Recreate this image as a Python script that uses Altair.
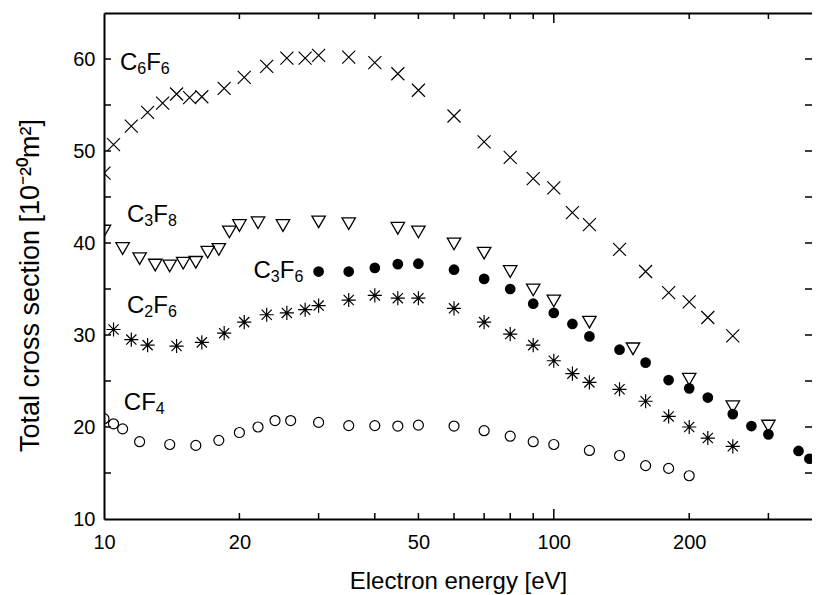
import math
import altair as alt
import pandas as pd

# ---------------- data ----------------
c6f6_energy = [10, 10.5, 11.5, 12.5, 13.5, 14.5, 15.5, 16.5, 18.5, 20.5, 23, 25.5, 28, 30,
               35, 40, 45, 50, 60, 70, 80, 90, 100, 110, 120, 140, 160, 180, 200, 220, 250]
c6f6_value = [47.6, 50.7, 52.7, 54.2, 55.2, 56.2, 55.8, 55.9, 56.8, 58.0, 59.2, 60.1, 60.1, 60.4,
              60.2, 59.6, 58.4, 56.6, 53.8, 51.0, 49.3, 47.0, 46.0, 43.3, 42.0, 39.3, 36.9, 34.6,
              33.6, 31.9, 29.9]

c3f8_energy = [10, 11, 12, 13, 14, 15, 16, 17, 18, 19, 20, 22, 25, 30, 35, 45, 50, 60, 70, 80,
               90, 100, 120, 150, 200, 250, 300]
c3f8_value = [41.3, 39.4, 38.3, 37.6, 37.5, 37.8, 37.9, 39.0, 39.3, 41.2, 41.9, 42.2, 41.9, 42.3,
              42.1, 41.6, 41.2, 39.9, 38.9, 36.9, 34.9, 33.7, 31.4, 28.5, 25.2, 22.2, 20.1]

c3f6_energy = [30, 35, 40, 45, 50, 60, 70, 80, 90, 100, 110, 120, 140, 160, 180, 200, 220, 250,
               275, 300, 350, 370]
c3f6_value = [36.9, 36.9, 37.3, 37.7, 37.75, 37.1, 36.1, 35.0, 33.4, 32.4, 31.2, 29.85, 28.4,
              27.0, 25.1, 24.2, 23.2, 21.4, 20.1, 19.2, 17.4, 16.55]

c2f6_energy = [10.5, 11.5, 12.5, 14.5, 16.5, 18.5, 20.5, 23, 25.5, 28, 30, 35, 40, 45, 50, 60,
               70, 80, 90, 100, 110, 120, 140, 160, 180, 200, 220, 250]
c2f6_value = [30.6, 29.5, 28.9, 28.8, 29.2, 30.2, 31.4, 32.2, 32.4, 32.75, 33.2, 33.8, 34.3, 34.0,
              34.0, 32.9, 31.4, 30.1, 28.9, 27.2, 25.8, 24.85, 24.1, 22.8, 21.15, 20.0, 18.8, 17.9]

cf4_energy = [10, 10.5, 11, 12, 14, 16, 18, 20, 22, 24, 26, 30, 35, 40, 45, 50, 60, 70, 80, 90,
              100, 120, 140, 160, 180, 200]
cf4_value = [20.9, 20.35, 19.8, 18.4, 18.1, 18.0, 18.55, 19.4, 20.0, 20.7, 20.7, 20.5, 20.15,
             20.15, 20.1, 20.2, 20.1, 19.6, 19.0, 18.4, 18.1, 17.45, 16.9, 15.8, 15.5, 14.7]

# species labels (digits are drawn as subscripts)
label_text = ["C6F6", "C3F8", "C3F6", "C2F6", "CF4"]
label_energy = [10.85, 11.25, 21.5, 11.25, 11.07]
label_value = [58.8, 42.3, 36.2, 32.4, 21.9]

x_label_values = [10, 20, 50, 100, 200]
x_minor_ticks = [20, 30, 40, 50, 60, 70, 80, 90, 200, 300]
x_major_ticks = [100]
y_label_values = [10, 20, 30, 40, 50, 60]
y_ticks = [15, 20, 25, 30, 35, 40, 45, 50, 55, 60]

# ---------------- chart ----------------
W, H = 708, 506
X_MIN, X_MAX = 10, 375
FONT = "Liberation Sans"
MAIN_SIZE, SUB_SIZE = 24, 16

xscale = alt.Scale(type="log", domain=[X_MIN, X_MAX], nice=False)
yscale = alt.Scale(domain=[10, 65], nice=False, zero=False)


def X(axis=None):
    return alt.X("energy:Q", scale=xscale, axis=axis)


def Y(axis=None):
    return alt.Y("value:Q", scale=yscale, axis=axis)


def frame(e, v):
    return pd.DataFrame({"energy": e, "value": v})


# split labels into main letters and subscript digits, advancing by glyph widths
glyph_em = {"C": 0.722, "F": 0.611}
px_per_decade = W / math.log10(X_MAX / X_MIN)
main_rows, sub_rows = [], []
for txt, e0, v0 in zip(label_text, label_energy, label_value):
    off = 0.0
    for ch in txt:
        e = e0 * 10 ** (off / px_per_decade)
        if ch.isdigit():
            sub_rows.append({"energy": e, "value": v0, "t": ch})
            off += 0.556 * SUB_SIZE
        else:
            main_rows.append({"energy": e, "value": v0, "t": ch})
            off += glyph_em[ch] * MAIN_SIZE

bottom_axis = alt.Axis(orient="bottom", values=x_label_values, format="d", ticks=False,
                       tickSize=0, grid=False, domain=True, domainColor="black",
                       domainWidth=2, labelFont=FONT, labelFontSize=20, labelColor="black",
                       labelBaseline="alphabetic", labelPadding=29, labelFlush=False,
                       labelOverlap=False,
                       title="Electron energy [eV]", titleFont=FONT, titleFontSize=24,
                       titleFontWeight="normal", titleColor="black",
                       titleBaseline="alphabetic", titleY=69)
top_axis = alt.Axis(orient="top", labels=False, ticks=False, tickSize=0, grid=False,
                    domain=True, domainColor="black", domainWidth=2, title=None)
left_axis = alt.Axis(orient="left", values=y_label_values, ticks=False, tickSize=0,
                     grid=False, domain=True, domainColor="black", domainWidth=2,
                     labelFont=FONT, labelFontSize=20, labelColor="black", labelPadding=9,
                     title="Total cross section [10\u207b\u00b2\u2070m\u00b2]", titleFont=FONT,
                     titleFontSize=27, titleFontWeight="normal", titleColor="black",
                     titleAngle=270, titleX=-74, titleY=272, titleBaseline="middle",
                     titleAlign="center")

cross_path = "M-1,-1L1,1M-1,1L1,-1"
aster_path = "M0,-1L0,1M-1,0L1,0M-0.72,-0.72L0.72,0.72M-0.72,0.72L0.72,-0.72"

c6f6 = alt.Chart(frame(c6f6_energy, c6f6_value)).mark_point(
    shape=cross_path, size=169, filled=False, stroke="black", strokeWidth=1.2, opacity=1,
    clip=True).encode(x=X(bottom_axis), y=Y(left_axis))

c3f8 = alt.Chart(frame(c3f8_energy, c3f8_value)).mark_point(
    shape="triangle-down", size=180, filled=False, stroke="black", strokeWidth=1.3,
    opacity=1, clip=True).encode(x=X(top_axis), y=Y())

c3f6 = alt.Chart(frame(c3f6_energy, c3f6_value)).mark_point(
    shape="circle", size=115, filled=True, fill="black", stroke="black", strokeWidth=0,
    opacity=1).encode(x=X(), y=Y())

c2f6 = alt.Chart(frame(c2f6_energy, c2f6_value)).mark_point(
    shape=aster_path, size=200, filled=False, stroke="black", strokeWidth=1.2, opacity=1,
    clip=True).encode(x=X(), y=Y())

cf4 = alt.Chart(frame(cf4_energy, cf4_value)).mark_point(
    shape="circle", size=100, filled=False, stroke="black", strokeWidth=1.2, opacity=1,
    clip=True).encode(x=X(), y=Y())

labels_main = alt.Chart(pd.DataFrame(main_rows)).mark_text(
    align="left", baseline="alphabetic", font=FONT, fontSize=MAIN_SIZE, color="black").encode(
    x=X(), y=Y(), text="t:N")
labels_sub = alt.Chart(pd.DataFrame(sub_rows)).mark_text(
    align="left", baseline="alphabetic", font=FONT, fontSize=SUB_SIZE, color="black",
    dy=4).encode(x=X(), y=Y(), text="t:N")

tick_kw = dict(color="black", strokeWidth=1.5)
xminor_df = pd.DataFrame({"energy": x_minor_ticks})
xmajor_df = pd.DataFrame({"energy": x_major_ticks})
y_df = pd.DataFrame({"value": y_ticks})

ticks = [
    alt.Chart(xminor_df).mark_rule(**tick_kw).encode(x=X(), y=alt.value(H), y2=alt.value(H - 6)),
    alt.Chart(xminor_df).mark_rule(**tick_kw).encode(x=X(), y=alt.value(0), y2=alt.value(6)),
    alt.Chart(xmajor_df).mark_rule(**tick_kw).encode(x=X(), y=alt.value(H), y2=alt.value(H - 10)),
    alt.Chart(xmajor_df).mark_rule(**tick_kw).encode(x=X(), y=alt.value(0), y2=alt.value(10)),
    alt.Chart(y_df).mark_rule(**tick_kw).encode(y=Y(), x=alt.value(0), x2=alt.value(7)),
    alt.Chart(y_df).mark_rule(**tick_kw).encode(y=Y(), x=alt.value(W), x2=alt.value(W - 7)),
]

chart = alt.layer(c6f6, c3f8, c3f6, c2f6, cf4, labels_main, labels_sub, *ticks).resolve_axis(
    x="independent", y="independent"
).properties(
    width=W, height=H,
    autosize=alt.AutoSizeParams(type="none"),
    padding={"left": 96, "top": 5, "right": 0, "bottom": 75},
    background="white",
).configure_view(strokeWidth=0)

chart.save("out.html", embed_options={"renderer": "svg", "actions": False})
